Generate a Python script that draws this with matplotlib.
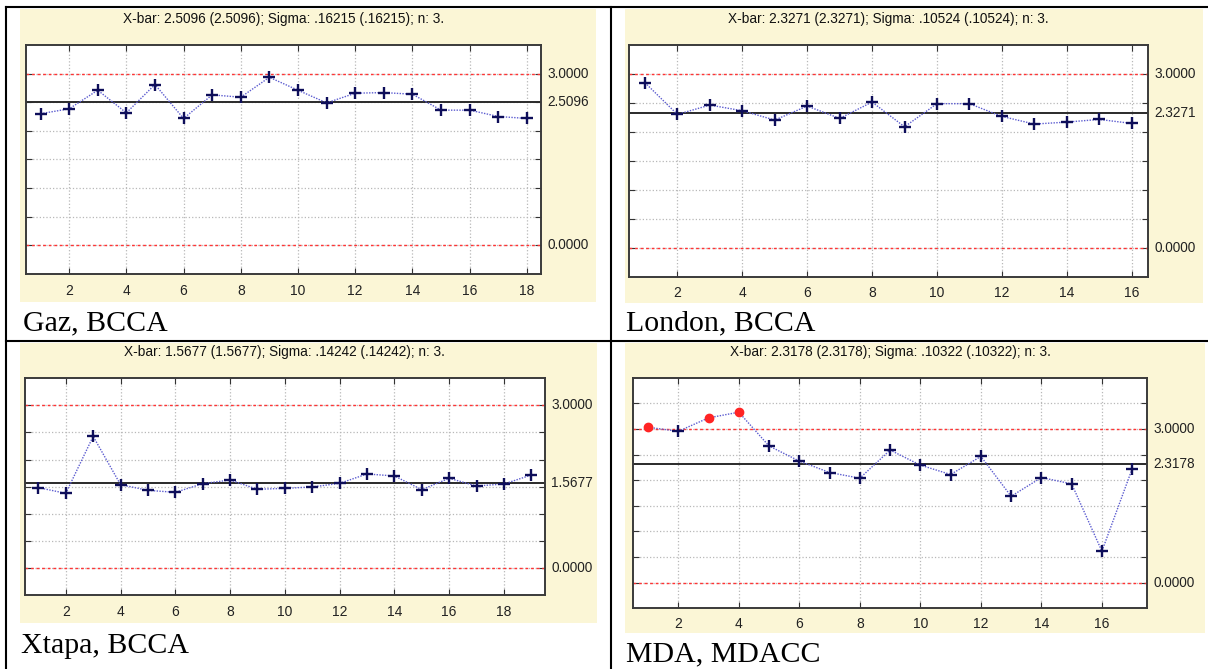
import matplotlib.pyplot as plt
from matplotlib.lines import Line2D
from matplotlib.patches import Rectangle
import numpy as np

# sample means per subgroup, one list per site
gaz = [2.30, 2.385, 2.71, 2.315, 2.81, 2.217, 2.629, 2.588, 2.936, 2.71,
       2.489, 2.658, 2.669, 2.64, 2.362, 2.362, 2.251, 2.217]
london = [2.85, 2.302, 2.463, 2.365, 2.204, 2.446, 2.233, 2.515, 2.088,
          2.487, 2.487, 2.267, 2.135, 2.169, 2.215, 2.146]
xtapa = [1.482, 1.377, 2.428, 1.537, 1.432, 1.395, 1.555, 1.623, 1.451,
         1.469, 1.494, 1.561, 1.734, 1.697, 1.445, 1.654, 1.512, 1.549, 1.715]
mda = [3.033, 2.954, 3.216, 3.327, 2.667, 2.373, 2.15, 2.039, 2.588,
       2.294, 2.111, 2.464, 1.686, 2.052, 1.928, 0.614, 2.222]

series = [gaz, london, xtapa, mda]
captions = ["Gaz, BCCA", "London, BCCA", "Xtapa, BCCA", "MDA, MDACC"]
xbar = [2.5096, 2.3271, 1.5677, 2.3178]
sigma = [".16215", ".10524", ".14242", ".10322"]
n_obs = 3
ucl = 3.0
lcl = 0.0

W, H = 1208, 669
YELLOW = "#fbf6d6"

# pixel boxes (left, top, right, bottom) for axes, background panels, captions
axes_px = [(26.2, 45, 541.2, 274), (628.7, 45, 1147.9, 276.7),
           (24.7, 378.3, 545, 595), (632.9, 377.7, 1147.3, 608.3)]
panel_px = [(20, 9.3, 595.5, 302), (625.2, 9.3, 1203, 303.3),
            (20, 343.3, 597.3, 623), (625, 343.3, 1205, 633.3)]
caption_px = [(23, 330.7), (626, 330), (21, 652.7), (626, 661.7)]
title_py = [19, 19, 352, 352]
ytops = [3.5, 3.5, 3.5, 4.0]
tick_pads = [7, 7, 7, 6]


def fx(px):
    return px / W


def fy(py):
    return 1 - py / H


def draw_chart(ax, values, center, ytop, pad):
    x = np.arange(1, len(values) + 1)
    values = np.asarray(values)

    ax.set_facecolor("white")
    ax.set_xlim(0.5, len(values) + 0.5)
    ax.set_ylim(-0.5, ytop)
    ax.set_xticks(np.arange(2, len(values) + 1, 2))
    ax.set_yticks(np.arange(0.0, ytop, 0.5))
    ax.set_yticklabels([])
    ax.tick_params(axis="x", direction="in", length=4, top=True, pad=pad,
                   labelsize=10, labelcolor="#222222", color="#333333")
    ax.tick_params(axis="y", direction="in", length=4, right=True,
                   color="#333333")
    ax.grid(True, color="#b8b8b8", linestyle=":", linewidth=0.9)
    ax.set_axisbelow(True)
    for s in ax.spines.values():
        s.set_color("#3a3a3a")
        s.set_linewidth(1.4)

    # control limits and center line
    for lim in (ucl, lcl):
        ax.axhline(lim, color="#ff3434", linestyle=(0, (2, 2)), linewidth=1.0)
    ax.axhline(center, color="#2a2a2a", linewidth=1.4)

    ax.plot(x, values, color="#5c5cd0", linestyle=(0, (1, 1)), linewidth=1.0)
    out = values > ucl
    ax.plot(x[~out], values[~out], linestyle="none", marker="+",
            markersize=8.5, markeredgewidth=1.7, color="#0e0e5a")
    ax.plot(x[out], values[out], linestyle="none", marker="o",
            markersize=6, color="#ff2424")

    trans = ax.get_yaxis_transform()
    for val, lab in [(ucl, "%.4f" % ucl), (center, "%.4f" % center),
                     (lcl, "%.4f" % lcl)]:
        ax.annotate(lab, xy=(1, val), xycoords=trans, xytext=(4.5, 0),
                    textcoords="offset points", va="center", ha="left",
                    fontsize=9.8, color="#222222")


def main():
    plt.rcParams["font.family"] = ["Liberation Sans", "DejaVu Sans"]
    fig = plt.figure(figsize=(W / 100, H / 100), dpi=100)
    fig.patch.set_facecolor("white")

    for i in range(4):
        l, t, r, b = panel_px[i]
        fig.add_artist(Rectangle((fx(l), fy(b)), fx(r - l), (b - t) / H,
                                 transform=fig.transFigure,
                                 facecolor=YELLOW, edgecolor="none",
                                 zorder=-5))

    for i in range(4):
        l, t, r, b = axes_px[i]
        ax = fig.add_axes([fx(l), fy(b), fx(r - l), (b - t) / H])
        draw_chart(ax, series[i], xbar[i], ytops[i], tick_pads[i])

        # chart heading in the band above the frame
        fig.text((fx(l) + fx(r)) / 2, fy(title_py[i]),
                 "X-bar: %.4f (%.4f); Sigma: %s (%s); n: %d." %
                 (xbar[i], xbar[i], sigma[i], sigma[i], n_obs),
                 fontsize=9.8, color="#111111", ha="center", va="center")

        cx, cy = caption_px[i]
        fig.text(fx(cx), fy(cy), captions[i], family="Liberation Serif",
                 fontsize=21.5, va="baseline", ha="left", color="black")

    # table borders
    lines = [([6, W], [7.3, 7.3]), ([6, W], [341, 341]),
             ([6, 6], [7.3, H]), ([611, 611], [7.3, H])]
    for xs, ys in lines:
        fig.add_artist(Line2D([fx(v) for v in xs], [fy(v) for v in ys],
                              transform=fig.transFigure, color="black",
                              linewidth=1.5))

    fig.savefig("out.png", dpi=100, facecolor="white")


if __name__ == "__main__":
    main()
